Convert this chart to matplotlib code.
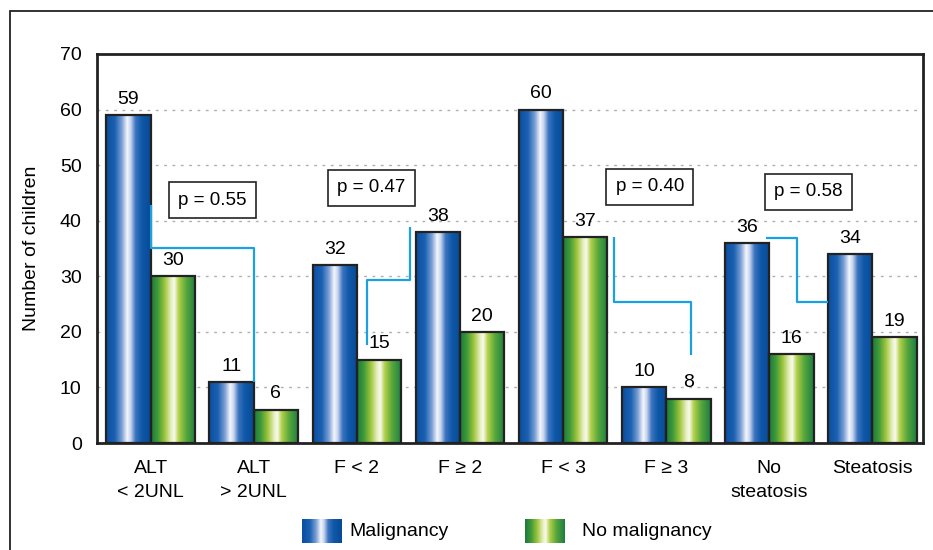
import numpy as np
import matplotlib.pyplot as plt
from matplotlib.colors import LinearSegmentedColormap
from matplotlib.patches import Rectangle

categories = ["ALT\n< 2UNL", "ALT\n> 2UNL", "F < 2", "F \u2265 2",
              "F < 3", "F \u2265 3", "No\nsteatosis", "Steatosis"]
malignancy = [59, 11, 32, 38, 60, 10, 36, 34]
no_malignancy = [30, 6, 15, 20, 37, 8, 16, 19]
p_values = ["p = 0.55", "p = 0.47", "p = 0.40", "p = 0.58"]

FONT = ["Liberation Sans", "DejaVu Sans"]

blue_cmap = LinearSegmentedColormap.from_list("blue_bar", [
    (0.0, "#0a4f9f"), (0.2, "#1d62b2"), (0.35, "#7b9fd6"), (0.47, "#f4f6fb"),
    (0.55, "#c9d6ee"), (0.66, "#3c74c0"), (0.8, "#0e58a8"), (1.0, "#084a96")])
green_cmap = LinearSegmentedColormap.from_list("green_bar", [
    (0.0, "#1c7a3a"), (0.15, "#3f9a3a"), (0.3, "#9cc43a"), (0.45, "#e8f0c0"),
    (0.52, "#f8fbf0"), (0.62, "#b4d04a"), (0.78, "#5aa83c"), (1.0, "#1a7d40")])
grad = np.linspace(0, 1, 128).reshape(1, -1)

fig = plt.figure(figsize=(9.33, 5.5), dpi=100)
ax = fig.add_axes([97 / 933, 1 - 443 / 550, 826 / 933, 389 / 550])

x = np.arange(len(categories))
w = 0.43


def gradient_bars(xpos, vals, cmap):
    bars = ax.bar(xpos, vals, w, align="edge", facecolor="none",
                  edgecolor="#222222", linewidth=1.6, zorder=4)
    for r in bars:
        x0, y0 = r.get_x(), r.get_y()
        ax.imshow(grad, cmap=cmap, aspect="auto", zorder=3,
                  extent=(x0, x0 + r.get_width(), y0, y0 + r.get_height()),
                  interpolation="bilinear")
    return bars


gradient_bars(x - w, malignancy, blue_cmap)
gradient_bars(x, no_malignancy, green_cmap)

# value labels above bars
for xi, v in zip(x - w / 2, malignancy):
    ax.text(xi, v + 1.3, str(v), ha="center", va="bottom", fontsize=14,
            family=FONT, zorder=6)
for xi, v in zip(x + w / 2, no_malignancy):
    ax.text(xi, v + 1.3, str(v), ha="center", va="bottom", fontsize=14,
            family=FONT, zorder=6)

# connector lines between compared groups
line_c = "#1ba0e2"
connectors = [
    ([0.0, 0.0, 1.0, 1.0], [42.8, 35.1, 35.1, 11.0]),
    ([2.1, 2.1, 2.52, 2.52], [17.6, 29.3, 29.3, 38.9]),
    ([4.49, 4.49, 5.24, 5.24], [37.1, 25.4, 25.4, 15.8]),
    ([5.97, 6.27, 6.27, 6.57], [36.9, 36.9, 25.4, 25.4]),
]
for cx, cy in connectors:
    ax.plot(cx, cy, color=line_c, lw=1.6, zorder=5, solid_capstyle="butt")

box_pos = [(0.6, 43.7), (2.14, 45.9), (4.84, 46.1), (6.38, 45.2)]
for (bx, by), txt in zip(box_pos, p_values):
    ax.text(bx, by, txt, ha="center", va="center", fontsize=13.5, family=FONT,
            zorder=7, bbox=dict(boxstyle="square,pad=0.5", fc="white",
                                ec="#222222", lw=1.2))

ax.set_xlim(-0.52, 7.49)
ax.set_ylim(0, 70)
ax.set_yticks(range(0, 71, 10))
ax.set_xticks(x)
ax.set_xticklabels(categories, family=FONT, fontsize=14, linespacing=1.6)
for lab in ax.get_yticklabels():
    lab.set_family(FONT)
    lab.set_fontsize(14)
ax.tick_params(axis="both", length=0)
ax.tick_params(axis="y", pad=11)
ax.tick_params(axis="x", pad=12)
for y in range(10, 70, 10):
    ax.axhline(y, color="#b0b0b0", lw=1, ls=(0, (2, 4)), zorder=1)
for s in ax.spines.values():
    s.set_linewidth(2)
    s.set_color("#222222")
ax.set_ylabel("Number of children", family=FONT, fontsize=14, labelpad=14)

# legend drawn as gradient swatches
for (left, cmap, label, tx) in [(302, blue_cmap, "Malignancy", 349),
                                (525, green_cmap, "No malignancy", 582)]:
    sw = fig.add_axes([left / 933, 1 - 543 / 550, 39 / 933, 24 / 550])
    sw.imshow(grad, cmap=cmap, aspect="auto", interpolation="bilinear")
    sw.set_axis_off()
    fig.text(tx / 933, 1 - 531 / 550, label, ha="left", va="center",
             fontsize=14, family=FONT)

fig.patches.append(Rectangle((10 / 933, -0.1), 1.2, 1.1 - 11 / 550,
                             transform=fig.transFigure, fill=False,
                             ec="#222222", lw=1.3))

fig.savefig("out.png", dpi=100)
